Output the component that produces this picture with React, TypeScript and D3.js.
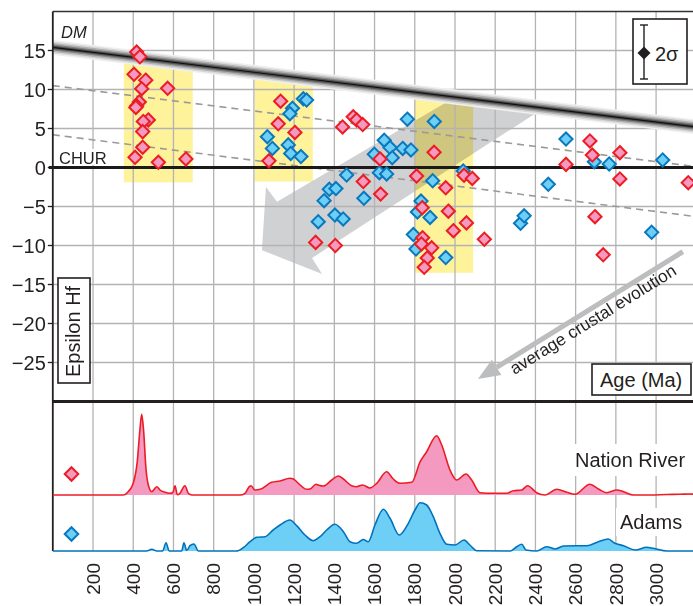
import React from "react";
import * as d3 from "d3";

const W = 693;
const H = 606;

// ---------- data ----------
const ageTicks = [200, 400, 600, 800, 1000, 1200, 1400, 1600, 1800, 2000, 2200, 2400, 2600, 2800, 3000];
const ageGrid = [200, 400, 600, 800, 1000, 1200, 1400, 1600, 1800, 2000, 2200, 2400, 2600, 2800, 3000, 3200];
const epsTicks = [15, 10, 5, 0, -5, -10, -15, -20, -25];

// Nation River (pink) zircon Hf data [age Ma, epsilon Hf]
const nationRiverHf: [number, number][] = [
  [417, 14.8], [433, 14.2], [404, 11.95], [462, 11.2], [442, 10.1], [571, 10.15], [430, 8.4],
  [417, 7.9], [413, 7.7], [475, 6.1], [450, 5.9], [447, 4.6], [447, 2.6], [409, 1.3], [525, 0.67], [662, 1.1],
  [1133, 8.5], [1121, 5.6], [1204, 4.5], [1075, 0.85], [1441, 5.2], [1494, 6.5], [1511, 6.1], [1541, 5.5],
  [1627, 1.1], [1544, -1.8], [1630, -3.4], [1307, -9.6], [1405, -10.0],
  [1896, 1.95], [1809, -1.1], [1954, -2.6], [1837, -5.15], [1967, -5.6], [2057, -7.1], [1992, -8.1],
  [1839, -9.0], [1833, -9.8], [2146, -9.2], [1884, -10.3], [1862, -11.6], [1847, -12.8], [2045, -1.0], [2086, -1.4],
  [2671, 3.4], [2683, 1.6], [2820, 1.9], [2552, 0.4], [2820, -1.47], [3160, -1.95], [2696, -6.3], [2737, -11.2],
];

// Adams (blue) zircon Hf data [age Ma, epsilon Hf]
const adamsHf: [number, number][] = [
  [1246, 8.8], [1262, 8.65], [1192, 7.6], [1179, 6.9], [1067, 3.95], [1092, 2.45], [1171, 2.9], [1183, 1.8], [1234, 1.4],
  [1763, 6.2], [1897, 5.9], [1648, 3.5], [1677, 2.55], [1740, 2.45], [1781, 2.25], [1599, 1.7], [1688, 1.26],
  [1624, -0.67], [1660, -0.83], [1461, -0.96], [1375, -2.8], [1408, -2.7], [1349, -4.25], [1547, -3.95],
  [1403, -6.1], [1444, -6.6], [1320, -6.95],
  [1889, -1.7], [1831, -4.3], [1813, -5.7], [1876, -6.4], [1793, -8.6], [1806, -10.45], [1954, -11.55], [2041, -0.45],
  [2326, -7.15], [2344, -6.2], [2464, -2.15],
  [2552, 3.65], [2693, 0.74], [2767, 0.45], [3033, 0.96], [2978, -8.3],
];

// Probability density curves [age Ma, relative density]
const nationRiverPdf: [number, number][] = [
  [0, 0], [350, 0], [375, 3.3], [400, 11.7], [420, 33.3], [434, 67], [442, 80.7], [452, 63.3], [463, 27], [475, 10],
  [492, 3.3], [517, 8.3], [533, 5], [558, 2.7], [583, 1.7], [597, 2.5], [608, 9.3], [619, 0.3], [632, 1.7], [657, 9.3],
  [674, 1.7], [691, 0], [931, 0], [956, 1.7], [977, 8.3], [986, 9.3], [1005, 5], [1031, 5.7], [1088, 12.7], [1130, 14],
  [1179, 16.7], [1196, 16], [1221, 11.7], [1263, 5.7], [1279, 6], [1309, 10.7], [1320, 10], [1345, 9], [1387, 15],
  [1420, 19], [1445, 16], [1486, 9.3], [1511, 8.3], [1541, 10], [1577, 7], [1611, 11.7], [1660, 23.3], [1693, 16],
  [1727, 11.7], [1785, 12.7], [1827, 33.3], [1859, 43.3], [1909, 59.3], [1934, 50], [1975, 25], [2008, 15],
  [2055, 21], [2083, 15], [2124, 2.3], [2190, 1.7], [2257, 1.7], [2290, 4.3], [2332, 5], [2361, 9.3], [2406, 2.3],
  [2448, 0], [2506, 5.7], [2556, 2.7], [2597, 0.7], [2671, 10.7], [2713, 6], [2755, 2.3], [2805, 5], [2838, 3.3],
  [2887, 0], [2970, 0], [3053, 0.5], [3119, 0.7], [3169, 1], [3200, 0.5],
];

const adamsPdf: [number, number][] = [
  [0, 0], [467, 0], [492, 1.7], [517, 0], [546, 0], [563, 8.3], [579, 0], [641, 0], [652, 8.3], [666, 0.5],
  [682, 5.3], [702, 7], [724, 0], [914, 0], [947, 3.3], [981, 9.3], [1014, 13.7], [1055, 14.3], [1096, 21],
  [1130, 26], [1179, 31], [1213, 25.3], [1254, 16], [1295, 10.3], [1329, 14.3], [1362, 21], [1403, 26.7],
  [1445, 19.3], [1478, 9.3], [1511, 7.7], [1544, 11.5], [1569, 9.3], [1602, 26], [1644, 41.7], [1677, 32.7],
  [1723, 16], [1768, 27.7], [1801, 41], [1827, 48.3], [1859, 46], [1892, 34.3], [1925, 17.7], [1959, 6.7],
  [2000, 6], [2045, 11], [2074, 6], [2108, 0.3], [2274, 0], [2307, 4.3], [2332, 6.7], [2353, 1], [2406, 0],
  [2456, 4.3], [2498, 2], [2539, 5], [2605, 5.3], [2655, 5.3], [2713, 9.3], [2762, 12], [2795, 7.7], [2838, 5.3],
  [2896, 1], [2953, 3.7], [2986, 2.7], [3053, 0], [3200, 0],
];

// Reference evolution lines [age, eps]
const dmLine: [number, number][] = [[0, 15.4], [3200, 5.2]];
const crustLineUpper: [number, number][] = [[0, 10.5], [3200, 0.1]];
const crustLineLower: [number, number][] = [[0, 4.2], [3200, -6.3]];

// Highlight boxes [age0, age1, eps0, eps1]
const yellowBoxes: [number, number, number, number][] = [
  [353, 696, -1.9, 13.5],
  [1004, 1293, -1.8, 11.3],
  [1801, 2090, -13.5, 8.8],
];

// Big grey arrow outline [age, eps]
const bigArrow: [number, number][] = [
  [2000, 9.0], [2398, 6.9], [1289, -11.6], [1339, -13.65], [1040, -10.6], [1060, -2.5], [1115, -4.4],
];

// Average crustal evolution arrow [tail, tip]
const avgArrow: [number, number][] = [[3133, -10.8], [2114, -27.1]];

const FONT = "'Liberation Sans', Arial, Helvetica, sans-serif";

function diamond(r: number) {
  return `M0,${-r}L${r},0L0,${r}L${-r},0Z`;
}

export default function App() {
  const x = d3.scaleLinear().domain([0, 3200]).range([52.8, 696.3]);
  const y = d3.scaleLinear().domain([-30, 20]).range([401.5, 11.5]);
  const nrBase = 495;
  const adBase = 551;
  const dens = d3.scaleLinear().domain([0, 100]).range([0, 100]);

  const nrArea = d3
    .area<[number, number]>()
    .x((d) => x(d[0]))
    .y0(nrBase)
    .y1((d) => nrBase - dens(d[1]))
    .curve(d3.curveMonotoneX);
  const nrLine = d3
    .line<[number, number]>()
    .x((d) => x(d[0]))
    .y((d) => nrBase - dens(d[1]))
    .curve(d3.curveMonotoneX);
  const adArea = d3
    .area<[number, number]>()
    .x((d) => x(d[0]))
    .y0(adBase)
    .y1((d) => adBase - dens(d[1]))
    .curve(d3.curveMonotoneX);
  const adLine = d3
    .line<[number, number]>()
    .x((d) => x(d[0]))
    .y((d) => adBase - dens(d[1]))
    .curve(d3.curveMonotoneX);

  const lineGen = d3
    .line<[number, number]>()
    .x((d) => x(d[0]))
    .y((d) => y(d[1]));

  const arrowPath = lineGen(bigArrow) + "Z";

  // small arrow geometry
  const tail = [x(avgArrow[0][0]), y(avgArrow[0][1])];
  const tip = [x(avgArrow[1][0]), y(avgArrow[1][1])];
  const len = Math.hypot(tail[0] - tip[0], tail[1] - tip[1]);
  const u = [(tail[0] - tip[0]) / len, (tail[1] - tip[1]) / len];
  const n = [-u[1], u[0]];
  const headLen = 22;
  const headHalf = 9;
  const baseC = [tip[0] + u[0] * headLen, tip[1] + u[1] * headLen];
  const headPts = [
    tip,
    [baseC[0] + n[0] * headHalf, baseC[1] + n[1] * headHalf],
    [baseC[0] - n[0] * headHalf, baseC[1] - n[1] * headHalf],
  ];
  const angle = (Math.atan2(u[1], u[0]) * 180) / Math.PI;
  const txtS = 33;
  const txtO = 16;
  const txtPos = [tip[0] + u[0] * txtS + n[0] * txtO, tip[1] + u[1] * txtS + n[1] * txtO];

  const gridColor = "#b3b3b3";

  return (
    <svg
      width={W}
      height={H}
      viewBox={`0 0 ${W} ${H}`}
      style={{ position: "absolute", left: 0, top: 0, background: "#fff" }}
      fontFamily={FONT}
    >
      <rect x={0} y={0} width={W} height={H} fill="#fff" />

      {/* yellow highlight boxes */}
      {yellowBoxes.map((b, i) => (
        <rect
          key={"yb" + i}
          x={x(b[0])}
          y={y(b[3])}
          width={x(b[1]) - x(b[0])}
          height={y(b[2]) - y(b[3])}
          fill="#fef29b"
        />
      ))}

      {/* big grey arrow */}
      <path d={arrowPath} fill="#d0d1d3" style={{ mixBlendMode: "multiply" }} />

      {/* grid */}
      {ageGrid.map((a) => (
        <line key={"vg" + a} x1={x(a)} x2={x(a)} y1={y(20)} y2={adBase} stroke={gridColor} strokeWidth={1.3} />
      ))}
      {epsTicks.map((e) => (
        <line key={"hg" + e} x1={x(0)} x2={W} y1={y(e)} y2={y(e)} stroke={gridColor} strokeWidth={1.3} />
      ))}

      {/* dashed crustal evolution lines */}
      {[crustLineUpper, crustLineLower].map((l, i) => (
        <path key={"dl" + i} d={lineGen(l) || ""} stroke="#9a9a9a" strokeWidth={1.6} strokeDasharray="7,5" fill="none" />
      ))}

      {/* DM band */}
      {[
        { w: 15, c: "#f0f0f0" },
        { w: 12, c: "#d8d8d8" },
        { w: 9, c: "#b0b0b0" },
        { w: 6, c: "#808080" },
        { w: 3.5, c: "#505050" },
        { w: 1.2, c: "#111" },
      ].map((s, i) => (
        <path key={"dm" + i} d={lineGen(dmLine) || ""} stroke={s.c} strokeWidth={s.w} fill="none" />
      ))}

      {/* CHUR line */}
      <line x1={x(0) - 4} x2={W} y1={y(0)} y2={y(0)} stroke="#1a1a1a" strokeWidth={3.2} />

      {/* frame */}
      <line x1={x(0)} x2={W} y1={y(20)} y2={y(20)} stroke="#333" strokeWidth={1.5} />
      <line x1={x(0)} x2={x(0)} y1={y(20)} y2={adBase} stroke="#231f20" strokeWidth={1.8} />
      <line x1={x(0)} x2={W} y1={y(-30)} y2={y(-30)} stroke="#231f20" strokeWidth={3.2} />

      {/* y ticks */}
      {epsTicks.map((e) => (
        <g key={"yt" + e}>
          <line x1={x(0) - 5} x2={x(0)} y1={y(e)} y2={y(e)} stroke="#231f20" strokeWidth={1.3} />
          <text x={x(0) - 7} y={y(e)} dy="0.36em" textAnchor="end" fontSize={20} fill="#231f20">
            {e < 0 ? "\u2212" + Math.abs(e) : String(e)}
          </text>
        </g>
      ))}

      {/* x tick labels */}
      {ageTicks.map((a) => (
        <text
          key={"xt" + a}
          transform={`translate(${x(a)},563) rotate(-90)`}
          dy="0.35em"
          textAnchor="end"
          fontSize={19}
          fill="#231f20"
        >
          {a}
        </text>
      ))}

      {/* average crustal evolution arrow */}
      <line
        x1={tail[0]}
        y1={tail[1]}
        x2={baseC[0]}
        y2={baseC[1]}
        stroke="#bcbdbf"
        strokeWidth={5}
      />
      <polygon points={headPts.map((p) => p.join(",")).join(" ")} fill="#bcbdbf" />
      <text
        transform={`translate(${txtPos[0]},${txtPos[1]}) rotate(${angle})`}
        fontSize={17.3}
        fill="#231f20"
      >
        average crustal evolution
      </text>

      {/* DM and CHUR labels */}
      <text x={61} y={38} fontSize={16.5} fontStyle="italic" fill="#231f20">
        DM
      </text>
      <rect x={57} y={149} width={53} height={16} fill="#fff" />
      <text x={59} y={163.5} fontSize={16.5} fill="#231f20">
        CHUR
      </text>

      {/* density curves */}
      <path d={nrArea(nationRiverPdf) || ""} fill="#f49ac1" />
      <path d={nrLine(nationRiverPdf) || ""} fill="none" stroke="#ed1c24" strokeWidth={1.6} />
      <path d={adArea(adamsPdf) || ""} fill="#6dcff6" />
      <path d={adLine(adamsPdf) || ""} fill="none" stroke="#0072bc" strokeWidth={1.6} />

      <rect x={571} y={444} width={120} height={32} fill="#fff" />
      <text x={575} y={467} fontSize={20} fill="#231f20">
        Nation River
      </text>
      <rect x={616} y={508} width={72} height={28} fill="#fff" />
      <text x={620} y={529} fontSize={20} fill="#231f20">
        Adams
      </text>

      {/* legend diamonds in PDF panel */}
      <path d={diamond(6.8)} transform={`translate(71.5,474)`} fill="#f49ac1" stroke="#ed1c24" strokeWidth={2} />
      <path d={diamond(6.8)} transform={`translate(71.5,534)`} fill="#6dcff6" stroke="#0a78be" strokeWidth={2} />

      {/* data points */}
      {adamsHf.map((d, i) => (
        <path
          key={"ad" + i}
          d={diamond(6.6)}
          transform={`translate(${x(d[0])},${y(d[1])})`}
          fill="#6dcff6"
          stroke="#0a78be"
          strokeWidth={2}
        />
      ))}
      {nationRiverHf.map((d, i) => (
        <path
          key={"nr" + i}
          d={diamond(6.6)}
          transform={`translate(${x(d[0])},${y(d[1])})`}
          fill="#f49ac1"
          stroke="#ed1c24"
          strokeWidth={2}
        />
      ))}

      {/* Epsilon Hf label box */}
      <rect x={58} y={278} width={32} height={105} fill="#fff" stroke="#231f20" strokeWidth={1.6} />
      <text transform="translate(80,377) rotate(-90)" fontSize={20} fill="#231f20">
        Epsilon Hf
      </text>

      {/* Age label box */}
      <rect x={592} y={364} width={99} height={31} fill="#fff" stroke="#231f20" strokeWidth={1.6} />
      <text x={600} y={386.5} fontSize={20} fill="#231f20">
        Age (Ma)
      </text>

      {/* 2 sigma legend */}
      <rect x={633} y={19} width={54} height={65} fill="#fff" stroke="#231f20" strokeWidth={1.6} />
      <line x1={644} x2={644} y1={25} y2={79} stroke="#231f20" strokeWidth={1.4} />
      <line x1={640} x2={648} y1={25} y2={25} stroke="#231f20" strokeWidth={1.4} />
      <line x1={640} x2={648} y1={79} y2={79} stroke="#231f20" strokeWidth={1.4} />
      <path d={diamond(6.5)} transform="translate(644,53)" fill="#231f20" />
      <text x={655} y={61} fontSize={20} fill="#231f20">
        2σ
      </text>
    </svg>
  );
}
